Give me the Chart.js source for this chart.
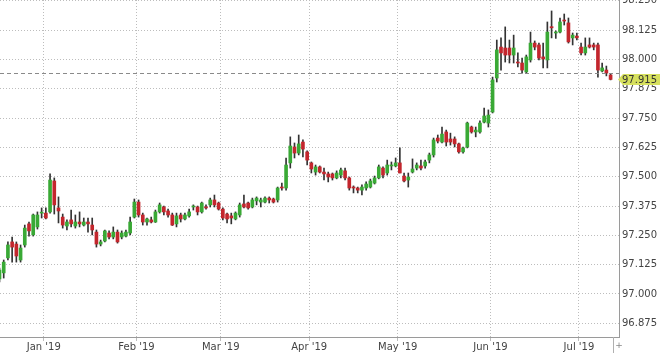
<!DOCTYPE html>
<html lang="en">
<head>
  <meta charset="UTF-8">
  <title>Candles 2019</title>
  <script src="https://cdn.jsdelivr.net/npm/chart.js"></script>
  <style>
    html, body { margin: 0; padding: 0; background: #fff; }
    canvas { display: block; }
  </style>
</head>
<body>
  <canvas id="chart" width="660" height="353"></canvas>
  <script>
    // daily candles, mid Dec 2018 -> mid Jul 2019
    const opens = [
      97.064, 97.090, 97.154, 97.222, 97.213, 97.145, 97.209, 97.299, 97.252, 97.286,
      97.345, 97.345, 97.350, 97.482, 97.367, 97.328, 97.290, 97.316, 97.290, 97.307,
      97.294, 97.307, 97.294, 97.264, 97.213, 97.226, 97.260, 97.243, 97.264, 97.243,
      97.247, 97.260, 97.328, 97.392, 97.337, 97.307, 97.316, 97.307, 97.350, 97.371,
      97.354, 97.337, 97.299, 97.337, 97.320, 97.333, 97.371, 97.371, 97.350, 97.371,
      97.380, 97.401, 97.388, 97.362, 97.341, 97.333, 97.320, 97.337, 97.384, 97.388,
      97.371, 97.397, 97.392, 97.392, 97.409, 97.405, 97.401, 97.456, 97.452, 97.559,
      97.627, 97.601, 97.648, 97.606, 97.559, 97.520, 97.542, 97.520, 97.512, 97.512,
      97.495, 97.507, 97.525, 97.495, 97.454, 97.452, 97.443, 97.452, 97.456, 97.473,
      97.495, 97.537, 97.516, 97.546, 97.546, 97.559, 97.503, 97.486, 97.520, 97.537,
      97.546, 97.546, 97.571, 97.593, 97.665, 97.648, 97.691, 97.661, 97.661, 97.640,
      97.606, 97.627, 97.712, 97.691, 97.691, 97.733, 97.729, 97.776, 97.921, 98.053,
      98.049, 98.049, 98.019, 97.989, 97.985, 97.947, 97.998, 98.070, 98.062, 98.011,
      97.998, 98.140, 98.113, 98.117, 98.168, 98.156, 98.092, 98.100, 98.053, 98.028,
      98.062, 98.062, 98.062, 97.951, 97.955, 97.934
    ];
    const highs = [
      97.111, 97.145, 97.222, 97.243, 97.222, 97.209, 97.294, 97.307, 97.341, 97.350,
      97.367, 97.367, 97.512, 97.495, 97.414, 97.341, 97.316, 97.358, 97.337, 97.350,
      97.324, 97.324, 97.324, 97.273, 97.230, 97.273, 97.269, 97.286, 97.273, 97.269,
      97.273, 97.328, 97.405, 97.401, 97.345, 97.324, 97.328, 97.358, 97.388, 97.375,
      97.362, 97.345, 97.345, 97.345, 97.345, 97.362, 97.380, 97.375, 97.392, 97.380,
      97.409, 97.422, 97.392, 97.367, 97.345, 97.345, 97.350, 97.388, 97.422, 97.392,
      97.409, 97.414, 97.409, 97.414, 97.414, 97.409, 97.456, 97.473, 97.580, 97.670,
      97.644, 97.678, 97.657, 97.610, 97.563, 97.550, 97.546, 97.537, 97.520, 97.516,
      97.525, 97.537, 97.537, 97.499, 97.461, 97.456, 97.465, 97.478, 97.490, 97.503,
      97.550, 97.542, 97.571, 97.563, 97.580, 97.623, 97.516, 97.516, 97.576, 97.559,
      97.571, 97.571, 97.601, 97.665, 97.678, 97.712, 97.699, 97.686, 97.670, 97.644,
      97.627, 97.733, 97.716, 97.712, 97.738, 97.793, 97.785, 97.925, 98.083, 98.092,
      98.139, 98.083, 98.104, 98.028, 98.006, 98.019, 98.117, 98.079, 98.070, 98.070,
      98.160, 98.207, 98.122, 98.177, 98.194, 98.177, 98.113, 98.113, 98.070, 98.092,
      98.092, 98.070, 98.070, 97.985, 97.972, 97.938
    ];
    const lows = [
      97.051, 97.068, 97.145, 97.136, 97.136, 97.136, 97.200, 97.247, 97.247, 97.277,
      97.324, 97.320, 97.345, 97.341, 97.303, 97.281, 97.273, 97.286, 97.281, 97.286,
      97.290, 97.264, 97.252, 97.200, 97.205, 97.222, 97.235, 97.235, 97.217, 97.235,
      97.243, 97.252, 97.324, 97.328, 97.294, 97.294, 97.303, 97.305, 97.345, 97.337,
      97.328, 97.292, 97.286, 97.307, 97.316, 97.328, 97.358, 97.337, 97.345, 97.362,
      97.371, 97.371, 97.358, 97.316, 97.303, 97.299, 97.316, 97.328, 97.367, 97.362,
      97.367, 97.380, 97.371, 97.388, 97.388, 97.388, 97.392, 97.443, 97.443, 97.537,
      97.580, 97.593, 97.584, 97.550, 97.516, 97.507, 97.516, 97.486, 97.478, 97.486,
      97.491, 97.495, 97.486, 97.443, 97.431, 97.431, 97.422, 97.443, 97.452, 97.469,
      97.491, 97.495, 97.507, 97.529, 97.542, 97.516, 97.478, 97.456, 97.516, 97.529,
      97.529, 97.537, 97.559, 97.584, 97.644, 97.644, 97.631, 97.635, 97.627, 97.601,
      97.601, 97.623, 97.686, 97.670, 97.686, 97.729, 97.712, 97.772, 97.904, 97.955,
      97.989, 97.985, 97.985, 97.968, 97.942, 97.942, 97.989, 98.041, 97.998, 97.964,
      97.964, 98.092, 98.090, 98.113, 98.147, 98.070, 98.062, 98.083, 98.019, 98.019,
      98.049, 98.041, 97.925, 97.947, 97.930, 97.913
    ];
    const closes = [
      97.102, 97.136, 97.209, 97.200, 97.162, 97.196, 97.281, 97.269, 97.337, 97.337,
      97.346, 97.324, 97.486, 97.380, 97.354, 97.294, 97.307, 97.299, 97.307, 97.299,
      97.307, 97.299, 97.273, 97.213, 97.222, 97.269, 97.243, 97.264, 97.222, 97.260,
      97.264, 97.307, 97.392, 97.337, 97.307, 97.320, 97.307, 97.350, 97.380, 97.350,
      97.337, 97.294, 97.333, 97.320, 97.337, 97.350, 97.372, 97.350, 97.388, 97.367,
      97.401, 97.380, 97.362, 97.324, 97.320, 97.324, 97.345, 97.380, 97.371, 97.367,
      97.401, 97.409, 97.401, 97.409, 97.401, 97.392, 97.452, 97.452, 97.550, 97.631,
      97.601, 97.640, 97.618, 97.571, 97.533, 97.542, 97.520, 97.512, 97.499, 97.495,
      97.516, 97.529, 97.495, 97.452, 97.452, 97.443, 97.456, 97.469, 97.482, 97.495,
      97.542, 97.507, 97.550, 97.550, 97.559, 97.516, 97.482, 97.499, 97.533, 97.550,
      97.537, 97.563, 97.593, 97.657, 97.652, 97.682, 97.648, 97.648, 97.640, 97.606,
      97.623, 97.729, 97.691, 97.699, 97.729, 97.759, 97.763, 97.913, 98.041, 98.028,
      98.019, 98.019, 98.049, 97.985, 97.955, 98.011, 98.070, 98.053, 98.006, 98.002,
      98.117, 98.135, 98.113, 98.160, 98.164, 98.075, 98.104, 98.092, 98.028, 98.053,
      98.053, 98.053, 97.955, 97.964, 97.942, 97.915
    ];

    const monthLabels = ["Jan '19", "Feb '19", "Mar '19", "Apr '19", "May '19", "Jun '19", "Jul '19"];
    const monthStarts = [11, 33, 53, 74, 95, 117, 138]; // index of first candle of each month
    const priceTicks = [96.875, 97.000, 97.125, 97.250, 97.375, 97.500, 97.625, 97.750, 97.875, 98.000, 98.125, 98.250];
    const lastPrice = 97.915;
    const refPrice = 97.943; // dashed line

    const UP = "#39a935";
    const DOWN = "#c3262d";

    const bodies = opens.map((o, i) => ({ x: i, y: [Math.min(o, closes[i]), Math.max(o, closes[i])] }));
    const wicks = lows.map((l, i) => ({ x: i, y: [l, highs[i]] }));
    const bodyColors = opens.map((o, i) => closes[i] >= o ? UP : DOWN);

    const lastPricePlugin = {
      id: "lastPrice",
      afterDatasetsDraw(chart) {
        const { ctx, chartArea, scales } = chart;
        const y = Math.round(scales.y.getPixelForValue(refPrice)) + 0.5;
        ctx.save();
        ctx.strokeStyle = "#8a8a8a";
        ctx.lineWidth = 1;
        ctx.setLineDash([4, 3]);
        ctx.beginPath();
        ctx.moveTo(chartArea.left, y);
        ctx.lineTo(chartArea.right, y);
        ctx.stroke();
        ctx.restore();
      },
      afterDraw(chart) {
        const { ctx, chartArea, scales } = chart;
        const y = scales.y.getPixelForValue(lastPrice);
        const x0 = chartArea.right;
        ctx.save();
        // price tag
        ctx.fillStyle = "#d6e05e";
        ctx.beginPath();
        ctx.moveTo(x0 - 1, y);
        ctx.lineTo(x0 + 4, y - 5.5);
        ctx.lineTo(chart.width, y - 5.5);
        ctx.lineTo(chart.width, y + 5.5);
        ctx.lineTo(x0 + 4, y + 5.5);
        ctx.closePath();
        ctx.fill();
        ctx.fillStyle = "#333";
        ctx.font = '10px "DejaVu Sans"';
        ctx.textBaseline = "middle";
        ctx.fillText(lastPrice.toFixed(3), x0 + 3, y + 0.5);
        // little separator and "+" at the bottom right
        ctx.strokeStyle = "#b0b0b0";
        ctx.beginPath();
        ctx.moveTo(613.5, chartArea.bottom);
        ctx.lineTo(613.5, chart.height);
        ctx.stroke();
        ctx.fillStyle = "#888";
        ctx.font = '9px "DejaVu Sans"';
        ctx.textAlign = "center";
        ctx.fillText("+", 619, chartArea.bottom + 9);
        ctx.restore();
      }
    };

    Chart.defaults.font.family = '"DejaVu Sans", Verdana, sans-serif';
    Chart.defaults.font.size = 10;
    Chart.defaults.color = "#444";

    new Chart(document.getElementById("chart"), {
      type: "bar",
      data: {
        datasets: [
          {
            label: "body",
            data: bodies,
            backgroundColor: bodyColors,
            barThickness: 3,
            minBarLength: 1,
            borderWidth: 0,
            borderSkipped: false
          },
          {
            label: "wick",
            data: wicks,
            backgroundColor: "#333",
            barThickness: 1,
            borderWidth: 0,
            borderSkipped: false
          }
        ]
      },
      options: {
        responsive: false,
        animation: false,
        devicePixelRatio: 1,
        layout: { padding: 0 },
        plugins: {
          legend: { display: false },
          tooltip: { enabled: false }
        },
        datasets: { bar: { grouped: false } },
        scales: {
          x: {
            type: "linear",
            min: 0.12,
            max: 147,
            offset: false,
            grid: {
              offset: false,
              color: "#bdbdbd",
              tickLength: 4,
              tickColor: "#bdbdbd"
            },
            // in v4 border.dash sets the dash of the grid lines
            border: { display: true, color: "#9a9a9a", dash: [1, 2] },
            afterBuildTicks: axis => {
              axis.ticks = monthStarts.map(i => ({ value: i - 0.5 }));
            },
            ticks: {
              padding: 0,
              maxRotation: 0,
              autoSkip: false,
              callback: (value, index) => monthLabels[index]
            }
          },
          y: {
            type: "linear",
            position: "right",
            min: 96.8166,
            max: 98.2537,
            grid: {
              color: "#bdbdbd",
              drawTicks: false
            },
            border: { display: true, color: "#9a9a9a", dash: [1, 2] },
            afterBuildTicks: axis => {
              axis.ticks = priceTicks.map(v => ({ value: v }));
            },
            afterFit: axis => {
              axis.paddingTop = 0;
            },
            ticks: {
              padding: 3,
              callback: value => value.toFixed(3)
            }
          }
        }
      },
      plugins: [lastPricePlugin]
    });
  </script>
</body>
</html>
